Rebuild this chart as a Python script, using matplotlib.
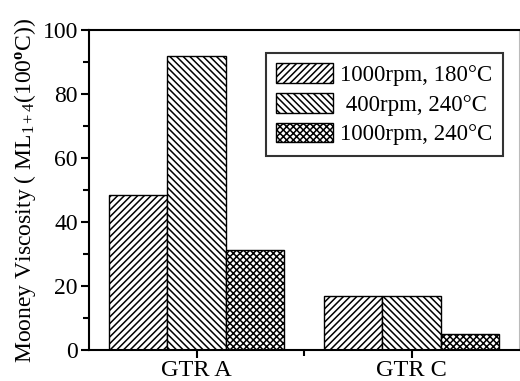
import numpy as np
import matplotlib
matplotlib.use("Agg")
import matplotlib.pyplot as plt

# Mooney viscosity of devulcanized ground tire rubber
samples = ["GTR A", "GTR C"]
conditions = ["1000rpm, 180°C", " 400rpm, 240°C", "1000rpm, 240°C"]
viscosity = [
    [48.5, 17.0],   # 1000rpm, 180C
    [91.8, 17.0],   # 400rpm, 240C
    [31.3, 5.0],    # 1000rpm, 240C
]
hatches = ["/////", "\\\\\\\\\\", "xxxxx"]

plt.rcParams["font.family"] = "Liberation Serif"
plt.rcParams["mathtext.fontset"] = "custom"
plt.rcParams["mathtext.rm"] = "Liberation Serif"
plt.rcParams["mathtext.it"] = "Liberation Serif:italic"
plt.rcParams["mathtext.bf"] = "Liberation Serif:bold"
plt.rcParams["hatch.linewidth"] = 1.1

fig = plt.figure(figsize=(5.2, 3.81), dpi=100)
ax = fig.add_axes([89 / 520, 31 / 381, 430 / 520, 320 / 381])

x = np.arange(len(samples))
width = 0.27
for i, cond in enumerate(conditions):
    ax.bar(x + (i - 1) * width, viscosity[i], width, color="white",
           edgecolor="black", linewidth=1.0, hatch=hatches[i], label=cond)

ax.set_xlim(-0.5, 1.5)
ax.set_ylim(0, 100)
ax.set_xticks(x)
ax.set_xticklabels(samples, fontsize=17.5)
ax.set_xticks([0.5], minor=True)
ax.set_yticks(np.arange(0, 101, 20))
ax.set_yticks(np.arange(10, 100, 20), minor=True)
ax.tick_params(axis="y", labelsize=17, pad=2)
ax.tick_params(axis="x", pad=1)
ax.tick_params(which="major", direction="out", length=6, width=1.5)
ax.tick_params(which="minor", direction="out", length=4, width=1.5)

for side in ["left", "bottom", "top"]:
    ax.spines[side].set_linewidth(1.5)
ax.spines["right"].set_linewidth(0.8)
ax.spines["right"].set_color("#bbbbbb")

ax.set_ylabel("Mooney Viscosity ( ML$_{1+4}$(100$^{\\mathbf{o}}$C))", fontsize=17, labelpad=3)

leg = ax.legend(loc="upper right", bbox_to_anchor=(0.962, 0.928), fontsize=16.5,
                frameon=True, fancybox=False, edgecolor="black",
                handlelength=2.5, handleheight=0.95, handletextpad=0.3,
                labelspacing=0.3, borderpad=0.45, borderaxespad=0)
leg.get_frame().set_linewidth(1.5)

fig.savefig("out.png", dpi=100)
